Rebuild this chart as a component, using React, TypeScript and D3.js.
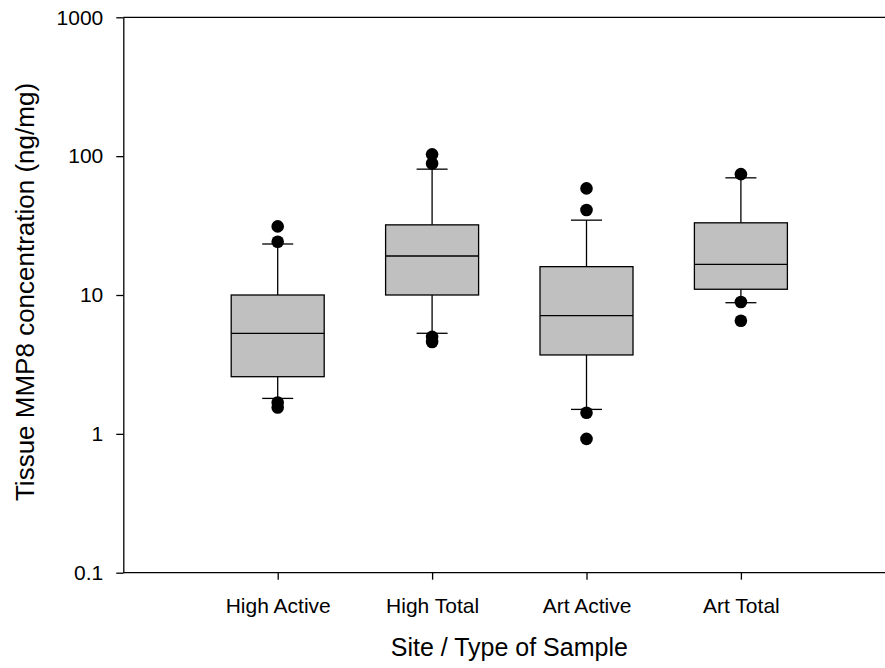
import React, { useEffect, useRef } from "react";
import * as d3 from "d3";

const categories = ["High Active", "High Total", "Art Active", "Art Total"];
const whiskerLow = [1.8, 5.3, 1.5, 8.8];
const q1 = [2.58, 10.0, 3.7, 11.0];
const median = [5.3, 19.1, 7.1, 16.6];
const q3 = [10.0, 32.0, 16.0, 33.1];
const whiskerHigh = [23.3, 80.6, 34.6, 69.8];
const outliers = [
	[31.2, 24.2, 1.68, 1.55],
	[103, 88.6, 4.99, 4.59],
	[58.6, 40.9, 1.42, 0.92],
	[74.2, 8.9, 6.53],
];
const yTicks = [0.1, 1, 10, 100, 1000];

const width = 885;
const height = 668;
const margin = { top: 17.3, bottom: 95.3, left: 123.3 };

export default function App() {
	const ref = useRef<SVGSVGElement>(null);

	useEffect(() => {
		const svg = d3.select(ref.current);
		svg.selectAll("*").remove();

		const x = d3
			.scaleLinear()
			.domain([0, 5])
			.range([margin.left, margin.left + 5 * 154.4]);
		const y = d3
			.scaleLog()
			.domain([0.1, 1000])
			.range([height - margin.bottom, margin.top]);

		const boxW = 93;
		const capW = 31;
		const font = "'Liberation Sans', Arial, sans-serif";

		const boxes = svg
			.append("g")
			.selectAll("g")
			.data(categories)
			.join("g")
			.attr("transform", (d, i) => `translate(${x(i + 1)},0)`);

		// whiskers
		boxes
			.append("line")
			.attr("y1", (d, i) => y(whiskerHigh[i]))
			.attr("y2", (d, i) => y(q3[i]))
			.attr("stroke", "#000")
			.attr("stroke-width", 1.3);
		boxes
			.append("line")
			.attr("y1", (d, i) => y(q1[i]))
			.attr("y2", (d, i) => y(whiskerLow[i]))
			.attr("stroke", "#000")
			.attr("stroke-width", 1.3);
		boxes
			.append("line")
			.attr("x1", -capW / 2)
			.attr("x2", capW / 2)
			.attr("y1", (d, i) => y(whiskerHigh[i]))
			.attr("y2", (d, i) => y(whiskerHigh[i]))
			.attr("stroke", "#000")
			.attr("stroke-width", 1.3);
		boxes
			.append("line")
			.attr("x1", -capW / 2)
			.attr("x2", capW / 2)
			.attr("y1", (d, i) => y(whiskerLow[i]))
			.attr("y2", (d, i) => y(whiskerLow[i]))
			.attr("stroke", "#000")
			.attr("stroke-width", 1.3);

		boxes
			.append("rect")
			.attr("x", -boxW / 2)
			.attr("width", boxW)
			.attr("y", (d, i) => y(q3[i]))
			.attr("height", (d, i) => y(q1[i]) - y(q3[i]))
			.attr("fill", "#c0c0c0")
			.attr("stroke", "#000")
			.attr("stroke-width", 1.3);
		boxes
			.append("line")
			.attr("x1", -boxW / 2)
			.attr("x2", boxW / 2)
			.attr("y1", (d, i) => y(median[i]))
			.attr("y2", (d, i) => y(median[i]))
			.attr("stroke", "#000")
			.attr("stroke-width", 1.3);

		boxes
			.selectAll("circle")
			.data((d, i) => outliers[i])
			.join("circle")
			.attr("cy", (v) => y(v))
			.attr("r", 6.3)
			.attr("fill", "#000");

		// top frame line
		svg
			.append("line")
			.attr("x1", margin.left)
			.attr("x2", width)
			.attr("y1", y(1000))
			.attr("y2", y(1000))
			.attr("stroke", "#000")
			.attr("stroke-width", 1.3);

		const yAxis = svg
			.append("g")
			.attr("transform", `translate(${margin.left},0)`)
			.call(
				d3
					.axisLeft(y)
					.tickValues(yTicks)
					.tickFormat((d) => String(d))
					.tickSize(7)
					.tickSizeOuter(0)
					.tickPadding(13)
			);
		yAxis.selectAll("path,line").attr("stroke", "#000").attr("stroke-width", 1.3);
		yAxis.selectAll("text").attr("font-size", 21).attr("font-family", font).attr("fill", "#000");

		const xAxis = svg
			.append("g")
			.attr("transform", `translate(0,${y(0.1)})`)
			.call(
				d3
					.axisBottom(x)
					.tickValues([1, 2, 3, 4])
					.tickFormat((d) => categories[(d as number) - 1])
					.tickSize(7)
					.tickSizeOuter(0)
					.tickPadding(18)
			);
		xAxis.select(".domain").attr("d", `M${margin.left},0H${width}`);
		xAxis.selectAll("path,line").attr("stroke", "#000").attr("stroke-width", 1.3);
		xAxis.selectAll("text").attr("font-size", 21).attr("font-family", font).attr("fill", "#000");

		svg
			.append("text")
			.attr("x", x(2.5))
			.attr("y", 656)
			.attr("text-anchor", "middle")
			.attr("font-size", 25)
			.attr("font-family", font)
			.text("Site / Type of Sample");

		svg
			.append("text")
			.attr("transform", `translate(34,292) rotate(-90)`)
			.attr("text-anchor", "middle")
			.attr("font-size", 26)
			.attr("font-family", font)
			.text("Tissue MMP8 concentration (ng/mg)");
	}, []);

	return (
		<svg
			ref={ref}
			width={width}
			height={height}
			style={{ position: "absolute", left: 0, top: 0, background: "#fff" }}
		/>
	);
}
